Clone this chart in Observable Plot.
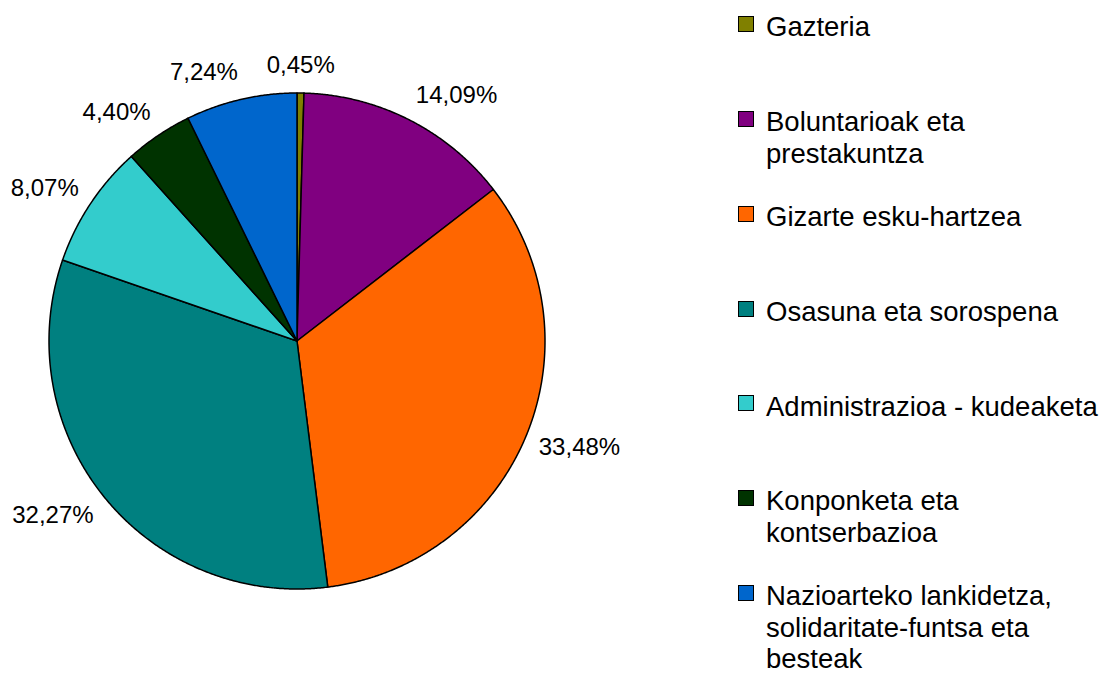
<!DOCTYPE html>
<html><head><meta charset="utf-8">
<script src="https://cdn.jsdelivr.net/npm/d3@7"></script>
<script src="https://cdn.jsdelivr.net/npm/@observablehq/plot@0.6"></script>
<style>
body{margin:0;background:#fff;font-family:"Liberation Sans",Arial,sans-serif;}
#wrap{position:relative;width:1100px;height:675px;overflow:hidden;}
#wrap svg{position:absolute;left:0;top:0;}
.sw{position:absolute;left:738px;width:14px;height:14px;border:1.5px solid #000;}
.ln{position:absolute;left:766px;font-size:27.5px;line-height:20px;height:20px;white-space:pre;color:#000;}
</style></head><body><div id="wrap"></div>
<script>
const categories = ["Gazteria","Boluntarioak eta prestakuntza","Gizarte esku-hartzea","Osasuna eta sorospena","Administrazioa - kudeaketa","Konponketa eta kontserbazioa","Nazioarteko lankidetza, solidaritate-funtsa eta besteak"];
const values = [0.45, 14.09, 33.48, 32.27, 8.07, 4.40, 7.24];
const valueLabels = ["0,45%","14,09%","33,48%","32,27%","8,07%","4,40%","7,24%"];
const colors = ["#808000","#800080","#ff6600","#008080","#33cccc","#003300","#0066cc"];
const legendLines = [["Gazteria"],["Boluntarioak eta","prestakuntza"],["Gizarte esku-hartzea"],["Osasuna eta sorospena"],["Administrazioa - kudeaketa"],["Konponketa eta","kontserbazioa"],["Nazioarteko lankidetza,","solidaritate-funtsa eta","besteak"]];

const cx = 296.5, cy = 340.5, R = 248;
const arcs = d3.pie().sort(null).value(d => d)(values);

// slice outlines in unit coordinates
const slicePts = [];
arcs.forEach((a, i) => {
  const name = categories[i];
  slicePts.push({name, x: 0, y: 0});
  const n = Math.max(2, Math.ceil((a.endAngle - a.startAngle) / 0.005));
  for (let k = 0; k <= n; k++) {
    const t = a.startAngle + (a.endAngle - a.startAngle) * k / n;
    slicePts.push({name, x: Math.sin(t), y: Math.cos(t)});
  }
  slicePts.push({name, x: 0, y: 0});
});

const labelRX = 1.056, labelRY = 1.113;
const labelData = arcs.map((a, i) => {
  const m = (a.startAngle + a.endAngle) / 2;
  const s = Math.sin(m), c = Math.cos(m);
  return {text: valueLabels[i], x: labelRX * s, y: labelRY * c,
          anchor: s > 0.05 ? "start" : s < -0.05 ? "end" : "middle"};
});

const textMarks = ["start", "middle", "end"].map(anc =>
  Plot.text(labelData.filter(d => d.anchor === anc), {x: "x", y: "y", text: "text", textAnchor: anc, lineAnchor: "middle", fontSize: 24, fill: "#000"}));

const plot = Plot.plot({
  width: 1100, height: 675, margin: 0,
  x: {domain: [-1, 1], range: [cx - R, cx + R], axis: null},
  y: {domain: [-1, 1], range: [cy + R, cy - R], axis: null},
  color: {domain: categories, range: colors},
  style: {fontFamily: '"Liberation Sans", Arial, sans-serif', background: "transparent"},
  marks: [
    Plot.line(slicePts, {x: "x", y: "y", z: "name", fill: "name", stroke: "#000", strokeWidth: 1.5, strokeLinejoin: "round", curve: "linear"}),
    ...textMarks
  ]
});
const wrap = document.getElementById("wrap");
wrap.appendChild(plot);

legendLines.forEach((lines, i) => {
  const yc = 27 + 94.8 * i; // caps centre of first line
  const sw = document.createElement("div");
  sw.className = "sw";
  sw.style.background = colors[i];
  sw.style.top = (yc - 2.3 - 8.5) + "px";
  wrap.appendChild(sw);
  lines.forEach((txt, j) => {
    const d = document.createElement("div");
    d.className = "ln";
    d.style.top = (yc + 31.5 * j - 9.7) + "px";
    d.textContent = txt;
    wrap.appendChild(d);
  });
});
</script></body></html>
